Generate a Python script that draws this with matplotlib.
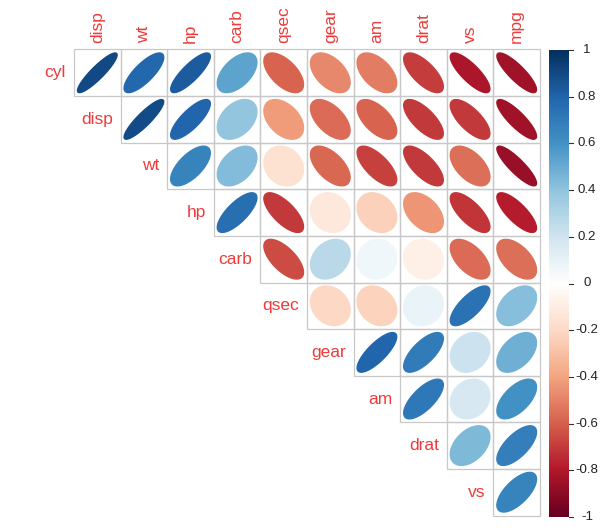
import numpy as np
import matplotlib
matplotlib.use('Agg')
import matplotlib.pyplot as plt
from matplotlib.colors import LinearSegmentedColormap
from matplotlib.patches import Polygon, Rectangle

# variable order (hclust-like order from the picture)
variables = ["cyl", "disp", "wt", "hp", "carb", "qsec", "gear", "am", "drat", "vs", "mpg"]
row_labels = variables[:-1]
col_labels = variables[1:]

# upper triangle, row by row (without diagonal)
r_cyl = [0.90, 0.78, 0.83, 0.53, -0.59, -0.49, -0.52, -0.70, -0.81, -0.85]
r_disp = [0.89, 0.79, 0.39, -0.43, -0.56, -0.59, -0.71, -0.71, -0.85]
r_wt = [0.66, 0.43, -0.17, -0.58, -0.69, -0.71, -0.55, -0.87]
r_hp = [0.75, -0.71, -0.13, -0.24, -0.45, -0.72, -0.78]
r_carb = [-0.66, 0.27, 0.06, -0.09, -0.57, -0.55]
r_qsec = [-0.21, -0.23, 0.09, 0.74, 0.42]
r_gear = [0.79, 0.70, 0.21, 0.48]
r_am = [0.71, 0.17, 0.60]
r_drat = [0.44, 0.68]
r_vs = [0.66]
rows = [r_cyl, r_disp, r_wt, r_hp, r_carb, r_qsec, r_gear, r_am, r_drat, r_vs]

cbar_ticks = [1, 0.8, 0.6, 0.4, 0.2, 0, -0.2, -0.4, -0.6, -0.8, -1]

cmap = LinearSegmentedColormap.from_list("RdBu", [
    "#67001F", "#B2182B", "#D6604D", "#F4A582", "#FDDBC7", "#FFFFFF",
    "#D1E5F0", "#92C5DE", "#4393C6", "#2166AC", "#053061"], N=200)

label_col = "#EE3B3B"
W, H = 612, 531
fig = plt.figure(figsize=(W / 100, H / 100), dpi=100)

# grid in pixel terms
gx0, gy0, cell = 74, 49.5, 46.6
n = len(col_labels)
ax = fig.add_axes([gx0 / W, 1 - (gy0 + n * cell) / H, n * cell / W, n * cell / H])
ax.set_xlim(0, n)
ax.set_ylim(0, n)
ax.axis('off')

k = np.linspace(0, 2 * np.pi, 99)
for i, vals in enumerate(rows):
    yc = n - i - 0.5
    for j, rho in enumerate(vals):
        col = i + j
        xc = col + 0.5
        ax.add_patch(Rectangle((col, n - i - 1), 1, 1, fill=False,
                               edgecolor="#C8C8C8", lw=0.9, clip_on=False))
        a = np.arccos(rho)
        ex = 0.85 * np.cos(k + a / 2) / 2 + xc
        ey = 0.85 * np.cos(k - a / 2) / 2 + yc
        c = cmap((rho + 1) / 2)
        ax.add_patch(Polygon(np.column_stack([ex, ey]), closed=True,
                             facecolor=c, edgecolor=c, lw=1.0))
    ax.text(i - 0.17, yc, row_labels[i], ha='right', va='center',
            color=label_col, fontsize=12.5, family='Liberation Sans')

for j, lab in enumerate(col_labels):
    ax.text(j + 0.5, n + 0.15, lab, ha='center', va='bottom', rotation=90,
            color=label_col, fontsize=12.5, family='Liberation Sans')

# colour legend
cax = fig.add_axes([549 / W, 1 - 517 / H, 20 / W, 467 / H])
grad = np.linspace(-1, 1, 200).reshape(-1, 1)
cax.imshow(grad, cmap=cmap, aspect='auto', origin='lower', extent=[0, 1, -1, 1])
cax.set_xlim(0, 1)
cax.set_ylim(-1, 1)
cax.set_xticks([])
cax.set_yticks([])
for s in cax.spines.values():
    s.set_visible(False)
for t in cbar_ticks:
    cax.plot([1, 1.2], [t, t], color='#333333', lw=0.8, clip_on=False)
    cax.text(1.9, t, f"{t:g}", ha='center', va='center', fontsize=9.5,
             color='#222222', family='Liberation Sans')

fig.savefig("out.png", dpi=100, facecolor='white')
